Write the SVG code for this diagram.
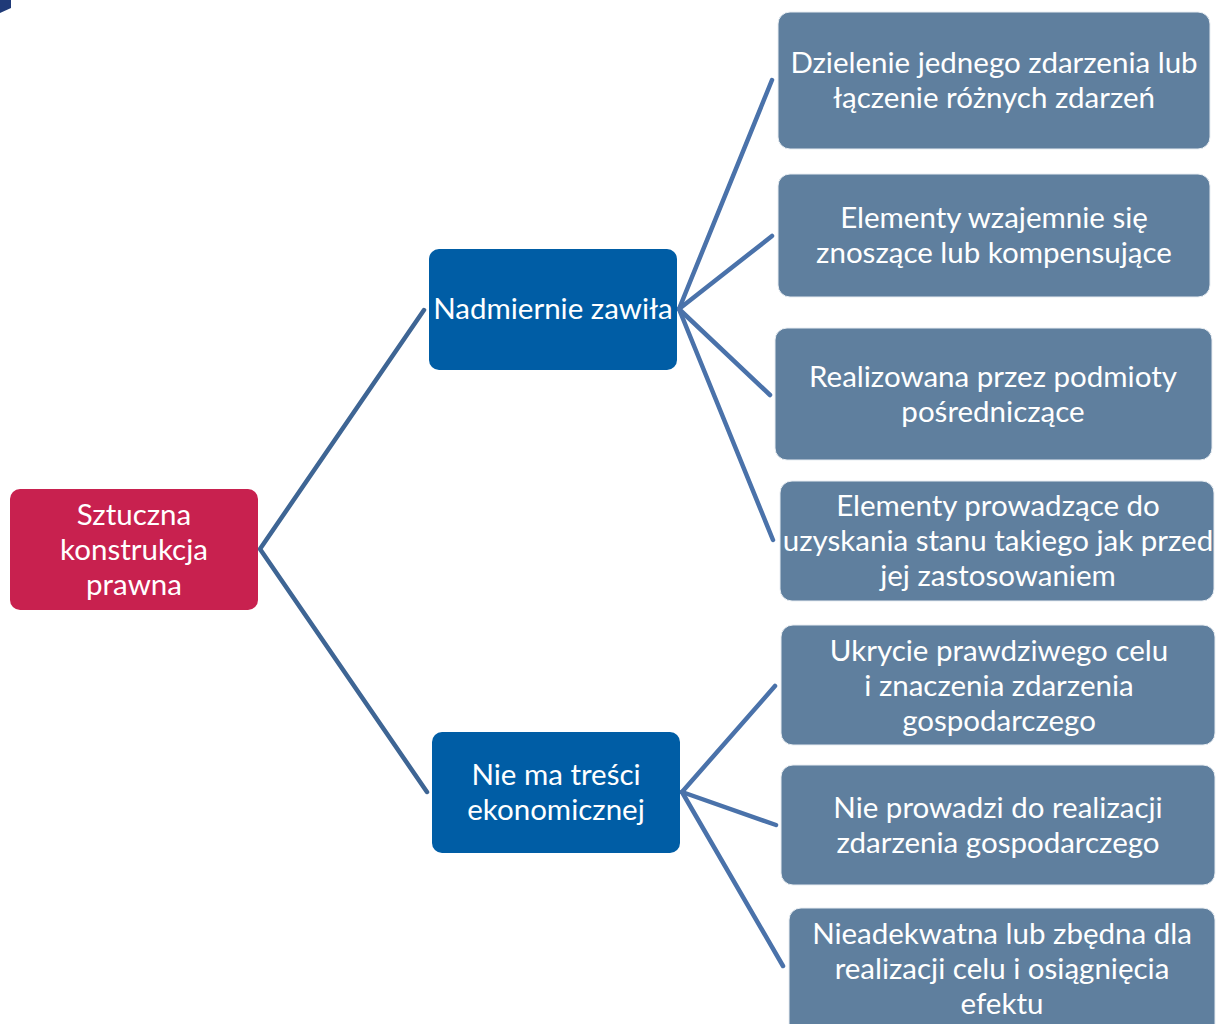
<svg xmlns="http://www.w3.org/2000/svg" width="1216" height="1024" viewBox="0 0 1216 1024">
<style>
.t{font-family:Lato,"Liberation Sans",sans-serif;font-size:29.5px;fill:#ffffff;text-anchor:middle}
.root{fill:#C8214F}
.mid{fill:#005DA5}
.leaf{fill:#5F7F9E;stroke:#E8EDF2;stroke-width:1}
.c1{stroke:#3E6594;stroke-width:4.5;fill:none;stroke-linecap:round}
.c2{stroke:#4A72AA;stroke-width:4.5;fill:none;stroke-linecap:round}
</style>
<rect width="1216" height="1024" fill="#ffffff"/>
<polygon points="0,0 11,0 11,8 0,13" fill="#1F3A78"/>
<g id="connectors">
<polyline class="c1" points="424,310 260,549 427,792"/>
<line class="c2" x1="679" y1="309" x2="772" y2="80"/>
<line class="c2" x1="679" y1="309" x2="772" y2="236"/>
<line class="c2" x1="679" y1="309" x2="770" y2="395"/>
<line class="c2" x1="679" y1="309" x2="773" y2="540"/>
<line class="c2" x1="682" y1="792" x2="775" y2="686"/>
<line class="c2" x1="682" y1="792" x2="776" y2="825"/>
<line class="c2" x1="682" y1="792" x2="783" y2="966"/>
</g>
<g id="root">
<rect class="root" x="10" y="489" width="248" height="121" rx="10"/>
<text class="t" x="134" y="525">Sztuczna</text>
<text class="t" x="134" y="560">konstrukcja</text>
<text class="t" x="134" y="595">prawna</text>
</g>
<g id="n1">
<rect class="mid" x="429" y="249" width="248" height="121" rx="10"/>
<text class="t" x="553" y="319">Nadmiernie zawiła</text>
</g>
<g id="n2">
<rect class="mid" x="432" y="732" width="248" height="121" rx="10"/>
<text class="t" x="556" y="785">Nie ma treści</text>
<text class="t" x="556" y="820">ekonomicznej</text>
</g>
<g id="a">
<rect class="leaf" x="778" y="12" width="432" height="137" rx="12"/>
<text class="t" x="994" y="73">Dzielenie jednego zdarzenia lub</text>
<text class="t" x="994" y="108">łączenie różnych zdarzeń</text>
</g>
<g id="b">
<rect class="leaf" x="778" y="174" width="432" height="123" rx="12"/>
<text class="t" x="994" y="228">Elementy wzajemnie się</text>
<text class="t" x="994" y="263">znoszące lub kompensujące</text>
</g>
<g id="c">
<rect class="leaf" x="775" y="328" width="437" height="132" rx="12"/>
<text class="t" x="993" y="387">Realizowana przez podmioty</text>
<text class="t" x="993" y="422">pośredniczące</text>
</g>
<g id="d">
<rect class="leaf" x="780" y="481" width="434" height="120" rx="12"/>
<text class="t" x="998" y="516">Elementy prowadzące do</text>
<text class="t" x="998" y="551">uzyskania stanu takiego jak przed</text>
<text class="t" x="998" y="586">jej zastosowaniem</text>
</g>
<g id="e">
<rect class="leaf" x="781" y="625" width="434" height="120" rx="12"/>
<text class="t" x="999" y="661">Ukrycie prawdziwego celu</text>
<text class="t" x="999" y="696">i znaczenia zdarzenia</text>
<text class="t" x="999" y="731">gospodarczego</text>
</g>
<g id="f">
<rect class="leaf" x="781" y="765" width="434" height="120" rx="12"/>
<text class="t" x="998" y="818">Nie prowadzi do realizacji</text>
<text class="t" x="998" y="853">zdarzenia gospodarczego</text>
</g>
<g id="g">
<rect class="leaf" x="789" y="908" width="426" height="130" rx="12"/>
<text class="t" x="1002" y="944">Nieadekwatna lub zbędna dla</text>
<text class="t" x="1002" y="979">realizacji celu i osiągnięcia</text>
<text class="t" x="1002" y="1014">efektu</text>
</g>
</svg>
